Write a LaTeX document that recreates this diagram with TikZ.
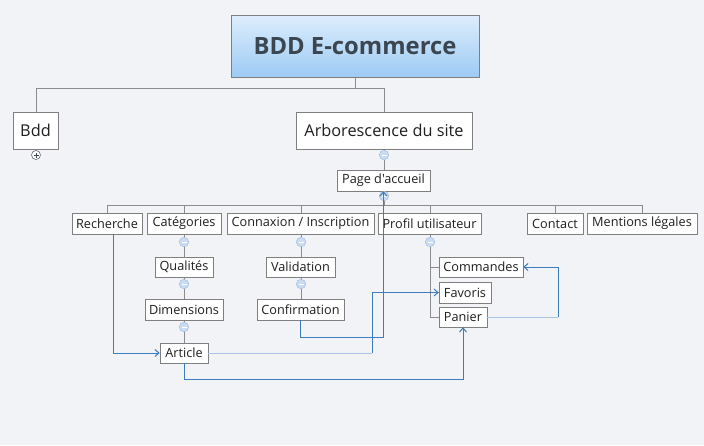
\documentclass[tikz,border=0pt]{standalone}
\usepackage{fontspec}
\setmainfont{Open Sans}
\newfontfamily\plainOS{Open Sans}
\usetikzlibrary{arrows.meta}
\definecolor{bgc}{HTML}{F2F3F7}
\definecolor{bordc}{HTML}{7F7F7F}
\definecolor{treec}{HTML}{8C8C8C}
\definecolor{relc}{HTML}{3D7DBF}
\definecolor{rellight}{HTML}{A8C5E4}
\definecolor{titletop}{HTML}{DDEDFC}
\definecolor{titlebot}{HTML}{9DCBF4}
\definecolor{titletext}{HTML}{3B4651}
\definecolor{markfill}{HTML}{C9DCF1}
\definecolor{markdraw}{HTML}{A3BFE0}
\tikzset{
  topic/.style={draw=bordc, line width=0.6pt, fill=white, inner sep=0pt, font=\fontsize{12.7}{15}\selectfont, text=black!88},
  bigtopic/.style={topic, font=\fontsize{16.3}{19}\selectfont},
  tree/.style={draw=treec, line width=0.8pt},
  rel/.style={draw=relc, line width=1pt, -{Straight Barb[length=4pt,width=7pt]}},
  rellt/.style={draw=rellight, line width=1pt},
  collapse/.style={circle, fill=markfill, draw=markdraw, line width=0.5pt, minimum size=9.5pt, inner sep=0pt,
    path picture={\draw[white, line width=0.7pt] ([xshift=-2.5pt]path picture bounding box.center) -- ([xshift=2.5pt]path picture bounding box.center);}},
  expand/.style={circle, fill=white, draw=titletext!80, line width=0.6pt, minimum size=9pt, inner sep=0pt,
    path picture={\draw[titletext, line width=0.7pt] ([xshift=-2.5pt]path picture bounding box.center) -- ([xshift=2.5pt]path picture bounding box.center) ([yshift=-2.5pt]path picture bounding box.center) -- ([yshift=2.5pt]path picture bounding box.center);}}
}
\begin{document}
\begin{tikzpicture}[x=1pt,y=-1pt]
\fill[bgc] (0,0) rectangle (704,445);
\useasboundingbox (0,0) rectangle (704,445);

% tree lines (drawn first)
\draw[tree] (355,77) -- (355,88);
\draw[tree] (36,88) -- (384,88);
\draw[tree] (36,88) -- (36,112);
\draw[tree] (384,88) -- (384,112);
\draw[tree] (384,149) -- (384,170);
\draw[tree] (384,191) -- (384,205);
\draw[tree] (107,205) -- (642,205);
\foreach \x in {107,184,301,430,555,642} \draw[tree] (\x,205) -- (\x,213);
\draw[tree] (184,234) -- (184,343);
\draw[tree] (301,234) -- (301,299);
\draw[tree] (430,234) -- (430,317) -- (439,317);
\draw[tree] (430,267) -- (439,267);
\draw[tree] (430,292) -- (439,292);

% title
\node[draw=bordc, line width=0.6pt, top color=titletop, bottom color=titlebot, minimum width=248pt, minimum height=62pt, inner sep=0pt,
  font=\fontsize{23.8}{28}\selectfont\bfseries, text=titletext] (title) at (355,46) {BDD E-commerce};

\node[bigtopic, minimum width=45pt, minimum height=37pt] (bdd) at (35.5,130.5) {Bdd};
\node[bigtopic, minimum width=176pt, minimum height=37pt] (arbo) at (384,130.5) {Arborescence du site};
\node[topic, minimum width=93pt, minimum height=21pt] (page) at (383.5,180.5) {\plainOS Page d'accueil};

\node[topic, minimum width=70pt, minimum height=21pt] (rech) at (107,223.5) {Recherche};
\node[topic, minimum width=74pt, minimum height=21pt] (cat) at (184,223.5) {Catégories};
\node[topic, minimum width=147pt, minimum height=21pt] (conn) at (300.5,223.5) {Connaxion / Inscription};
\node[topic, minimum width=103pt, minimum height=21pt] (prof) at (429.5,223.5) {Profil utilisateur};
\node[topic, minimum width=56pt, minimum height=21pt] (cont) at (555,223.5) {Contact};
\node[topic, minimum width=110pt, minimum height=21pt] (ment) at (642,223.5) {Mentions légales};

\node[topic, minimum width=58pt, minimum height=20pt] (qual) at (184,267) {Qualités};
\node[topic, minimum width=78pt, minimum height=21pt] (dim) at (184,309.5) {Dimensions};
\node[topic, minimum width=48pt, minimum height=20pt] (art) at (184,353) {Article};
\node[topic, minimum width=69pt, minimum height=20pt] (valid) at (300.5,267) {Validation};
\node[topic, minimum width=87pt, minimum height=21pt] (conf) at (300.5,309.5) {Confirmation};
\node[topic, minimum width=84pt, minimum height=20pt] (cmd) at (481,267) {Commandes};
\node[topic, minimum width=52pt, minimum height=21pt] (fav) at (465,292.5) {Favoris};
\node[topic, minimum width=48pt, minimum height=20pt] (pan) at (463,317) {Panier};

% collapse / expand markers
\node[expand] (mbdd) at (36,155) {};
\node[collapse] (marbo) at (384,155) {};
\node[collapse] (mcat) at (184,242) {};
\node[collapse] (mqual) at (184,284) {};
\node[collapse] (mdim) at (184,327) {};
\node[collapse] (mconn) at (301,242) {};
\node[collapse] (mvalid) at (301,284) {};
\node[collapse] (mprof) at (430,242) {};
\node[collapse] (mpage) at (384,196) {};

% relationships
\coordinate (a1) at (372,353);
\coordinate (p1) at (558,317);
\draw[rel] ([xshift=6pt]rech.south) |- (art.west);
\draw[rel] (conf.south) -- ++(0,17) -| (page.south);
\draw[rellt] (art.east) -- (a1);
\draw[rel] (a1) |- (fav.west);
\draw[rel] (art.south) -- ++(0,16) -| (pan.south);
\draw[rellt] (pan.east) -- (p1);
\draw[rel] (p1) |- (cmd.east);
\end{tikzpicture}
\end{document}
